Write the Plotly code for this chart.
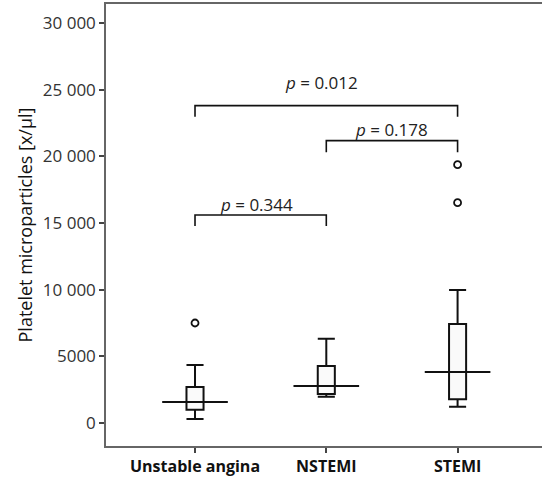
import plotly.graph_objects as go

categories = ["Unstable angina", "NSTEMI", "STEMI"]
lower_whisker = [300, 1975, 1225]
q1 = [1000, 2175, 1775]
median = [1575, 2775, 3825]
q3 = [2700, 4275, 7425]
upper_whisker = [4350, 6325, 9975]
outlier_group = [0, 2, 2]
outlier_value = [7500, 19375, 16525]

# comparisons: (from index, to index, bracket level, tick bottom, label, label position)
cmp_from = [0, 1, 0]
cmp_to = [2, 2, 1]
cmp_level = [23800, 21175, 15600]
cmp_drop = [22975, 20300, 14775]
cmp_label = ["0.012", "0.178", "0.344"]
cmp_label_x = [0.967, 1.5, 0.47]
cmp_label_y = [25520, 22030, 16400]

ytick_vals = [0, 5000, 10000, 15000, 20000, 25000, 30000]
ytick_text = ["0", "5000", "10 000", "15 000", "20 000", "25 000", "30 000"]

FONT = "Open Sans"
xs = list(range(len(categories)))

fig = go.Figure()
fig.add_trace(go.Box(
    x=xs, q1=q1, median=median, q3=q3,
    lowerfence=lower_whisker, upperfence=upper_whisker,
    width=0.13, whiskerwidth=1,
    line=dict(color="#111111", width=2),
    fillcolor="rgba(250,250,250,1)",
    boxpoints=False, showlegend=False, hoverinfo="skip",
))

# wide median lines
for i, m in zip(xs, median):
    fig.add_trace(go.Scatter(
        x=[i - 0.25, i + 0.25], y=[m, m], mode="lines",
        line=dict(color="#111111", width=2.2), showlegend=False, hoverinfo="skip"))

fig.add_trace(go.Scatter(
    x=outlier_group, y=outlier_value, mode="markers",
    marker=dict(symbol="circle-open", size=7, color="#111111", line=dict(width=1.8)),
    showlegend=False, hoverinfo="skip"))

for a, b, lvl, drop, lab, lx, ly in zip(cmp_from, cmp_to, cmp_level, cmp_drop,
                                        cmp_label, cmp_label_x, cmp_label_y):
    fig.add_trace(go.Scatter(
        x=[a, a, b, b], y=[drop, lvl, lvl, drop], mode="lines",
        line=dict(color="#111111", width=1.6), showlegend=False, hoverinfo="skip"))
    fig.add_annotation(
        x=lx, y=ly, text=f"<i>p</i> = {lab}",
        showarrow=False, yanchor="middle", xanchor="center",
        font=dict(family=FONT, size=17, color="#222222"))

fig.update_xaxes(
    range=[-0.678, 2.643], tickmode="array", tickvals=xs, ticktext=[f"<b>{c}</b>" for c in categories],
    showline=True, linecolor="#666666", linewidth=2, mirror=True,
    ticks="outside", ticklen=5, tickcolor="#444444", tickwidth=1.5,
    showgrid=False, zeroline=False,
    tickfont=dict(family=FONT, size=16, color="#111111"),
)
fig.update_yaxes(
    range=[-1725, 31425], tickmode="array", tickvals=ytick_vals, ticktext=ytick_text,
    showline=True, linecolor="#666666", linewidth=1.5,
    ticks="outside", ticklen=5, tickcolor="#444444", tickwidth=1.5,
    showgrid=False, zeroline=False,
    tickfont=dict(family=FONT, size=17, color="#333333"),
    title=dict(text="Platelet microparticles [x/μl]", font=dict(family=FONT, size=18, color="#111111"), standoff=6),
)
fig.update_layout(
    width=542, height=479,
    margin=dict(l=106, r=0, t=4, b=33),
    paper_bgcolor="white", plot_bgcolor="white",
)
fig.write_html("out.html")
